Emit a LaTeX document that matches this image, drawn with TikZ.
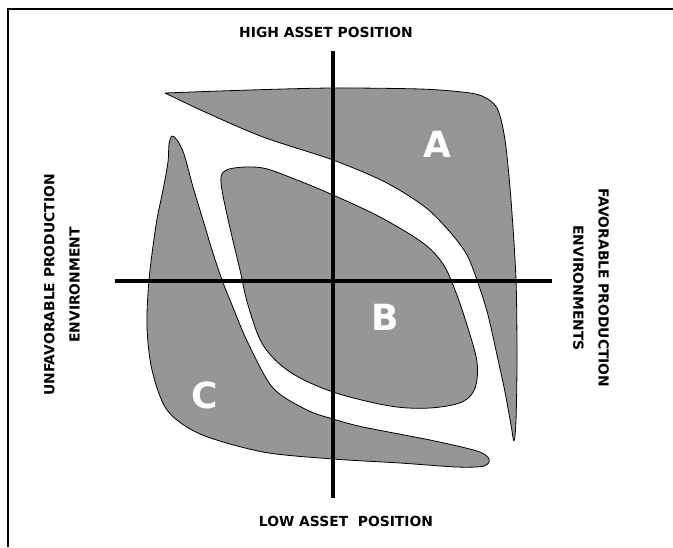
\documentclass[tikz,border=0pt]{standalone}
\usepackage{fontspec}
\setmainfont{DejaVu Sans}
\usepackage{xcolor}
\usepackage{tikz}
\usetikzlibrary{positioning}
\definecolor{zonegray}{RGB}{150,150,150}
\tikzset{zone/.style={fill=zonegray,draw=black,line width=0.6pt,line join=round},
         axisline/.style={line width=3pt},
         frameline/.style={line width=1.5pt},
         axlbl/.style={font=\fontsize{10.4}{19}\selectfont\bfseries,align=center,inner sep=0pt},
         zlbl/.style={font=\fontsize{27}{30}\selectfont\bfseries,text=white,inner sep=0pt}}
\begin{document}
\begin{tikzpicture}[x=0.75pt,y=-0.75pt]
\useasboundingbox (0,0) rectangle (673,547);
% frame
\draw[frameline] (8,547) -- (8,9) -- (673,9);
% zone A
\draw[zone] plot[smooth,tension=0.5] coordinates {(165,93) (250,90) (333,88)
   (420,89) (462,92) (482,96) (497,108) (505,140) (511,200) (516,280) (517,360)
   (516,420) (514,441) (511,425) (505,392) (497,355) (488,315) (478,283)
   (467,255) (450,232) (425,207) (385,182) (333,160) (263,137) (205,112) (165,93)} -- cycle;
% zone B
\draw[zone] plot[smooth cycle,tension=0.55] coordinates {(222,174) (234,168)
   (263,168) (297,180) (333,195) (380,217) (423,243) (443,264) (455,290)
   (467,325) (477,362) (475,388) (462,402) (430,408) (390,406) (333,392)
   (290,372) (263,345) (248,305) (240,270) (230,228) (222,190)};
% zone C
\draw[zone] plot[smooth cycle,tension=0.5] coordinates {(172,136) (177,140)
   (184,154) (193,187) (203,220) (212,250) (222,280) (232,305) (248,343)
   (273,388) (307,410) (333,419) (363,427) (430,440) (477,451) (489,459)
   (484,466) (457,467) (400,463) (333,459) (263,452) (200,434) (167,410)
   (152,370) (147,327) (149,280) (156,225) (163,190) (168,162) (169,144)};
% axes
\coordinate (top) at (333,51);
\coordinate (bot) at (333,498);
\coordinate (lft) at (115,281);
\coordinate (rgt) at (552,281);
\draw[axisline] (top) -- (bot);
\draw[axisline] (lft) -- (rgt);
% labels
\node[axlbl] (high) at (326,32) {HIGH ASSET POSITION};
\node[axlbl] (low) at (346,521) {LOW ASSET~ POSITION};
\node[axlbl,rotate=90] (unfav) at (62,285) {UNFAVORABLE PRODUCTION\\ENVIRONMENT};
\node[axlbl,rotate=-90] (fav) at (591,288) {FAVORABLE PRODUCTION\\ENVIRONMENTS};
\node[zlbl] (za) at (437,144) {A};
\node[zlbl] (zb) at (385,317) {B};
\node[zlbl] (zc) at (205,395) {C};
\end{tikzpicture}
\end{document}
